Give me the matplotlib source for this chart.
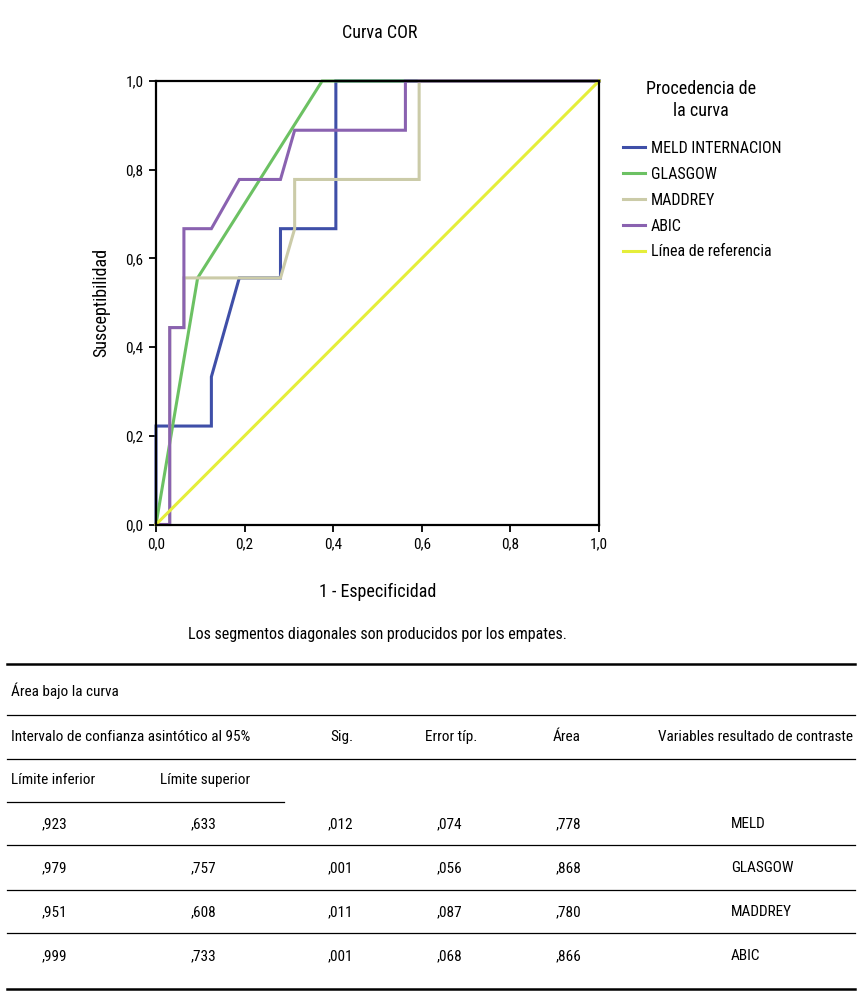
import matplotlib
matplotlib.use("Agg")
import matplotlib.pyplot as plt
from matplotlib.lines import Line2D

plt.rcParams["font.family"] = ["Roboto Condensed", "DejaVu Sans"]

# ROC curves (1 - specificity, sensitivity)
meld_x = [0.0, 0.0, 0.125, 0.125, 0.188, 0.281, 0.281, 0.406, 0.406, 1.0]
meld_y = [0.0, 0.222, 0.222, 0.333, 0.556, 0.556, 0.667, 0.667, 1.0, 1.0]
glasgow_x = [0.0, 0.094, 0.375, 1.0]
glasgow_y = [0.0, 0.556, 1.0, 1.0]
maddrey_x = [0.0, 0.031, 0.031, 0.063, 0.063, 0.281, 0.313, 0.313, 0.594, 0.594, 1.0]
maddrey_y = [0.0, 0.0, 0.444, 0.444, 0.556, 0.556, 0.667, 0.778, 0.778, 1.0, 1.0]
abic_x = [0.0, 0.031, 0.031, 0.063, 0.063, 0.125, 0.188, 0.281, 0.313, 0.563, 0.563, 1.0]
abic_y = [0.0, 0.0, 0.444, 0.444, 0.667, 0.667, 0.778, 0.778, 0.889, 0.889, 1.0, 1.0]
ref_x = [0.0, 1.0]
ref_y = [0.0, 1.0]

labels = ["MELD INTERNACION", "GLASGOW", "MADDREY", "ABIC", "Línea de referencia"]
colors = ["#3F4FA8", "#6CC163", "#CBCBA8", "#8A62B0", "#E5EE3A"]
ticks = [0.0, 0.2, 0.4, 0.6, 0.8, 1.0]
tick_labels = ["0,0", "0,2", "0,4", "0,6", "0,8", "1,0"]

# AUC table
tbl_inf = [",923", ",979", ",951", ",999"]
tbl_sup = [",633", ",757", ",608", ",733"]
tbl_sig = [",012", ",001", ",011", ",001"]
tbl_err = [",074", ",056", ",087", ",068"]
tbl_area = [",778", ",868", ",780", ",866"]
tbl_var = ["MELD", "GLASGOW", "MADDREY", "ABIC"]

W, H = 868, 999
fig = plt.figure(figsize=(W / 100, H / 100), dpi=100)
ax = fig.add_axes([156 / W, 1 - 524.5 / H, 443 / W, 443.5 / H])

series = [(meld_x, meld_y), (glasgow_x, glasgow_y), (maddrey_x, maddrey_y),
          (abic_x, abic_y), (ref_x, ref_y)]
for (xs, ys), lab, c in zip(series, labels, colors):
    ax.plot(xs, ys, color=c, lw=2.2, label=lab, solid_joinstyle="miter", clip_on=False)

ax.set_xlim(0, 1)
ax.set_ylim(0, 1)
ax.set_xticks(ticks)
ax.set_xticklabels(tick_labels)
ax.set_yticks(ticks)
ax.set_yticklabels(tick_labels)
ax.tick_params(direction="out", length=5, width=1.3, labelsize=11, pad=4)
for s in ax.spines.values():
    s.set_linewidth(1.6)
    s.set_zorder(5)

ax.set_xlabel("1 - Especificidad", fontsize=13, labelpad=23)
ax.set_ylabel("Susceptibilidad", fontsize=13, labelpad=11)
fig.text(380 / W, 1 - 33 / H, "Curva COR", ha="center", va="center", fontsize=13)

# legend: title as separate text, entries below
fig.text(701 / W, 1 - 100 / H, "Procedencia de\nla curva", ha="center", va="center",
         fontsize=13, linespacing=1.25)
leg = ax.legend(loc="upper left", bbox_to_anchor=(623 / W, 1 - 141 / H),
                bbox_transform=fig.transFigure, frameon=False, borderpad=0,
                borderaxespad=0, fontsize=11.5, handlelength=1.35,
                handletextpad=0.4, labelspacing=0.68)

fig.text(377 / W, 1 - 634 / H, "Los segmentos diagonales son producidos por los empates.",
         ha="center", va="center", fontsize=11.5)

# table -------------------------------------------------------------------
def hline(y, x0=7, x1=855, lw=0.9):
    fig.add_artist(Line2D([x0 / W, x1 / W], [1 - y / H, 1 - y / H], color="black", lw=lw))

def txt(x, y, s, ha="left"):
    fig.text(x / W, 1 - y / H, s, ha=ha, va="center", fontsize=11)

hline(664, lw=1.8)
txt(11, 691, "Área bajo la curva")
hline(715)
txt(11, 737, "Intervalo de confianza asintótico al 95%")
txt(330, 737, "Sig.")
txt(425, 737, "Error típ.")
txt(553, 737, "Área")
txt(853, 737, "Variables resultado de contraste", ha="right")
hline(759)
txt(11, 780, "Límite inferior")
txt(160, 780, "Límite superior")
hline(802, x1=284)
row_y = [824, 868, 912, 956]
for i, y in enumerate(row_y):
    txt(42, y, tbl_inf[i])
    txt(191, y, tbl_sup[i])
    txt(328, y, tbl_sig[i])
    txt(437, y, tbl_err[i])
    txt(556, y, tbl_area[i])
    txt(731, y, tbl_var[i])
for y in [845, 890, 933]:
    hline(y)
hline(989, lw=1.8)

fig.savefig("out.png", dpi=100)
